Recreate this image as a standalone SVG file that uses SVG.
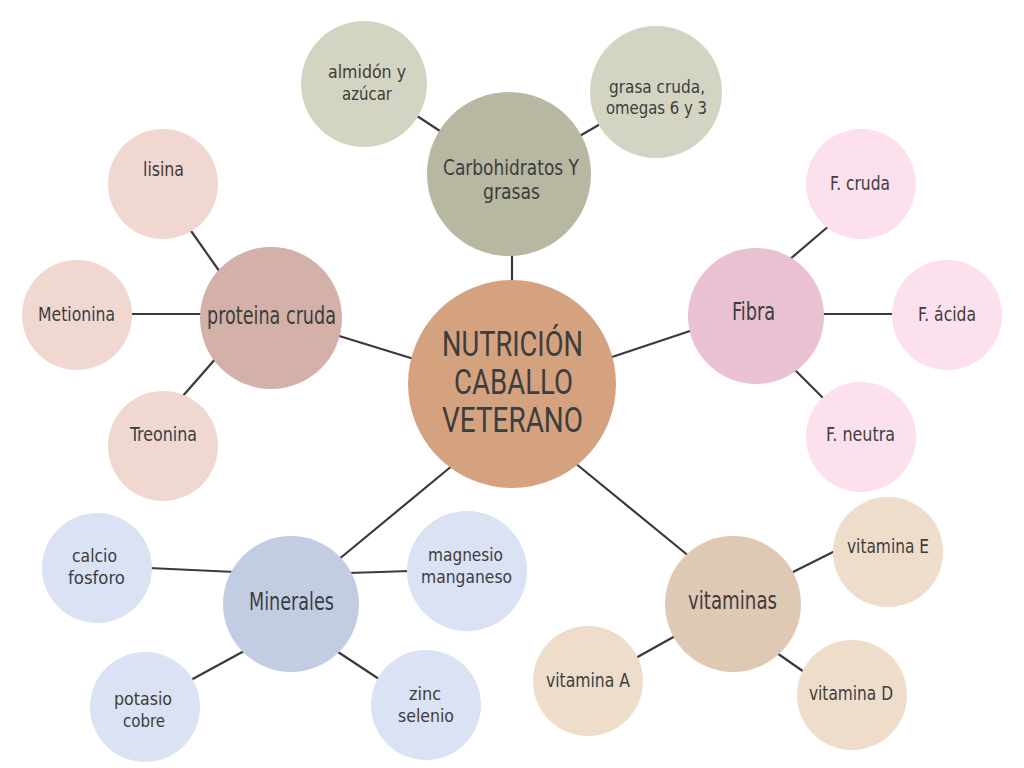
<svg xmlns="http://www.w3.org/2000/svg" width="1024" height="768" viewBox="0 0 1024 768">
<style>
text{font-family:"Liberation Sans Narrow","DejaVu Sans Condensed","Liberation Sans",sans-serif;fill:#3d3d3d}
.s{font-size:20px}
.s2{font-size:18px}
.m{font-size:24px}
.m2{font-size:22px}
.t{font-size:35px;font-family:"Roboto","Liberation Sans",sans-serif;font-weight:400}
.ln{stroke:#3a3a3a;stroke-width:2.2;fill:none}
.c0{fill:#D4A27F}
.c1{fill:#B7B7A2}.c1s{fill:#D3D5C2}
.c2{fill:#D3B1A8}.c2s{fill:#F0D7D0}
.c3{fill:#EAC0D3}.c3s{fill:#FDE0EE}
.c4{fill:#C2CDE4}.c4s{fill:#DAE2F3}
.c5{fill:#DFC9B5}.c5s{fill:#EFDDCC}
</style>
<rect width="1024" height="768" fill="#ffffff"/>
<g id="connectors" class="ln">
<line x1="512" y1="250" x2="512" y2="285"/>
<line x1="414" y1="114" x2="443" y2="133"/>
<line x1="578" y1="137" x2="602" y2="123"/>
<line x1="336" y1="335" x2="414" y2="359"/>
<line x1="189" y1="228" x2="222" y2="275"/>
<line x1="128" y1="314" x2="204" y2="314"/>
<line x1="182" y1="397" x2="217" y2="357"/>
<line x1="609" y1="358" x2="693" y2="330"/>
<line x1="789" y1="260" x2="830" y2="225"/>
<line x1="820" y1="314" x2="896" y2="314"/>
<line x1="793" y1="368" x2="825" y2="400"/>
<line x1="453" y1="465" x2="338" y2="560"/>
<line x1="149" y1="568" x2="235" y2="572"/>
<line x1="349" y1="573" x2="410" y2="571"/>
<line x1="189" y1="681" x2="246" y2="650"/>
<line x1="335" y1="650" x2="382" y2="681"/>
<line x1="575" y1="463" x2="690" y2="557"/>
<line x1="789" y1="574" x2="837" y2="550"/>
<line x1="634" y1="659" x2="677" y2="635"/>
<line x1="774" y1="651" x2="807" y2="674"/>
</g>
<g id="center"><circle class="c0" cx="512" cy="384" r="104"/>
<text class="t" x="442" y="356" textLength="141" lengthAdjust="spacingAndGlyphs">NUTRICIÓN</text>
<text class="t" x="454" y="394" textLength="119" lengthAdjust="spacingAndGlyphs">CABALLO</text>
<text class="t" x="442" y="432" textLength="141" lengthAdjust="spacingAndGlyphs">VETERANO</text></g>
<g id="carbohidratos"><circle class="c1" cx="509" cy="174" r="82"/>
<text class="m2" x="443" y="175" textLength="136" lengthAdjust="spacingAndGlyphs">Carbohidratos Y</text>
<text class="m2" x="483" y="199" textLength="57" lengthAdjust="spacingAndGlyphs">grasas</text></g>
<g id="almidon"><circle class="c1s" cx="364" cy="84" r="63"/>
<text class="s2" x="328" y="78" textLength="78" lengthAdjust="spacingAndGlyphs">almidón y</text>
<text class="s2" x="342" y="100" textLength="50" lengthAdjust="spacingAndGlyphs">azúcar</text></g>
<g id="grasa"><circle class="c1s" cx="656" cy="92" r="66"/>
<text class="s2" x="609" y="93" textLength="96" lengthAdjust="spacingAndGlyphs">grasa cruda,</text>
<text class="s2" x="606" y="114" textLength="101" lengthAdjust="spacingAndGlyphs">omegas 6 y 3</text></g>
<g id="proteina"><circle class="c2" cx="271" cy="318" r="71"/>
<text class="m" x="207" y="324" textLength="129" lengthAdjust="spacingAndGlyphs">proteina cruda</text></g>
<g id="lisina"><circle class="c2s" cx="163" cy="184" r="55"/>
<text class="s" x="143" y="176" textLength="41" lengthAdjust="spacingAndGlyphs">lisina</text></g>
<g id="metionina"><circle class="c2s" cx="77" cy="315" r="55"/>
<text class="s" x="38" y="321" textLength="77" lengthAdjust="spacingAndGlyphs">Metionina</text></g>
<g id="treonina"><circle class="c2s" cx="163" cy="446" r="55"/>
<text class="s" x="130" y="441" textLength="67" lengthAdjust="spacingAndGlyphs">Treonina</text></g>
<g id="fibra"><circle class="c3" cx="756" cy="316" r="68"/>
<text class="m" x="732" y="320" textLength="43" lengthAdjust="spacingAndGlyphs">Fibra</text></g>
<g id="fcruda"><circle class="c3s" cx="861" cy="184" r="55"/>
<text class="s" x="830" y="190" textLength="60" lengthAdjust="spacingAndGlyphs">F. cruda</text></g>
<g id="facida"><circle class="c3s" cx="947" cy="315" r="55"/>
<text class="s" x="918" y="321" textLength="58" lengthAdjust="spacingAndGlyphs">F. ácida</text></g>
<g id="fneutra"><circle class="c3s" cx="861" cy="437" r="55"/>
<text class="s" x="826" y="441" textLength="69" lengthAdjust="spacingAndGlyphs">F. neutra</text></g>
<g id="minerales"><circle class="c4" cx="291" cy="604" r="68"/>
<text class="m" x="249" y="610" textLength="85" lengthAdjust="spacingAndGlyphs">Minerales</text></g>
<g id="calcio"><circle class="c4s" cx="97" cy="568" r="55"/>
<text class="s2" x="72" y="562" textLength="45" lengthAdjust="spacingAndGlyphs">calcio</text>
<text class="s2" x="68" y="584" textLength="57" lengthAdjust="spacingAndGlyphs">fosforo</text></g>
<g id="magnesio"><circle class="c4s" cx="467" cy="571" r="60"/>
<text class="s2" x="428" y="561" textLength="75" lengthAdjust="spacingAndGlyphs">magnesio</text>
<text class="s2" x="421" y="583" textLength="91" lengthAdjust="spacingAndGlyphs">manganeso</text></g>
<g id="potasio"><circle class="c4s" cx="145" cy="707" r="55"/>
<text class="s2" x="114" y="705" textLength="58" lengthAdjust="spacingAndGlyphs">potasio</text>
<text class="s2" x="123" y="727" textLength="42" lengthAdjust="spacingAndGlyphs">cobre</text></g>
<g id="zinc"><circle class="c4s" cx="426" cy="705" r="55"/>
<text class="s2" x="409" y="700" textLength="32" lengthAdjust="spacingAndGlyphs">zinc</text>
<text class="s2" x="398" y="722" textLength="56" lengthAdjust="spacingAndGlyphs">selenio</text></g>
<g id="vitaminas"><circle class="c5" cx="733" cy="604" r="68"/>
<text class="m" x="688" y="609" textLength="89" lengthAdjust="spacingAndGlyphs">vitaminas</text></g>
<g id="vitE"><circle class="c5s" cx="888" cy="552" r="55"/>
<text class="s" x="847" y="553" textLength="82" lengthAdjust="spacingAndGlyphs">vitamina E</text></g>
<g id="vitA"><circle class="c5s" cx="588" cy="681" r="55"/>
<text class="s" x="546" y="687" textLength="84" lengthAdjust="spacingAndGlyphs">vitamina A</text></g>
<g id="vitD"><circle class="c5s" cx="852" cy="695" r="55"/>
<text class="s" x="809" y="700" textLength="84" lengthAdjust="spacingAndGlyphs">vitamina D</text></g>
</svg>
